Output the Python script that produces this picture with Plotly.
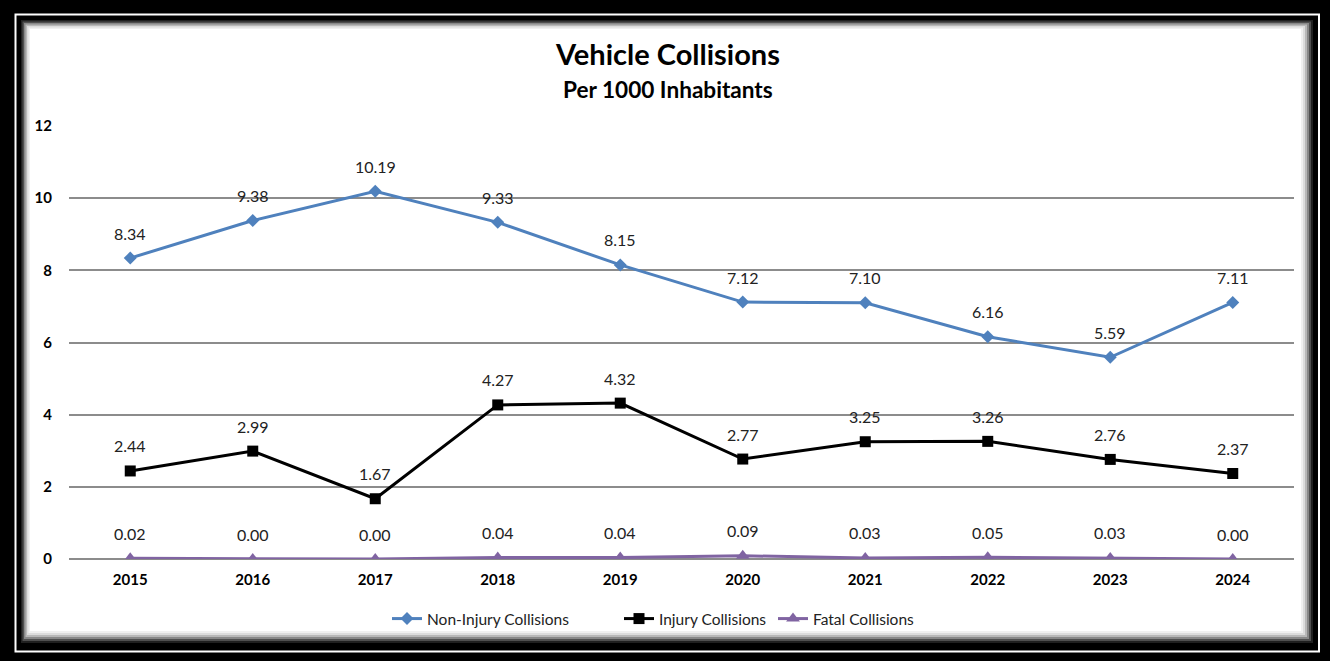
import plotly.graph_objects as go

years = ["2015", "2016", "2017", "2018", "2019", "2020", "2021", "2022", "2023", "2024"]
non_injury = [8.34, 9.38, 10.19, 9.33, 8.15, 7.12, 7.10, 6.16, 5.59, 7.11]
injury = [2.44, 2.99, 1.67, 4.27, 4.32, 2.77, 3.25, 3.26, 2.76, 2.37]
fatal = [0.02, 0.00, 0.00, 0.04, 0.04, 0.09, 0.03, 0.05, 0.03, 0.00]
y_ticks = [0, 2, 4, 6, 8, 10, 12]

W, H = 1330, 661
L, R, T, B = 69, 36, 126, 102
PW, PH = W - L - R, H - T - B
FONT = "Lato, 'Open Sans', sans-serif"


def px_x(p):
    return (p - L) / PW


def px_y(p):
    return (H - B - p) / PH


fig = go.Figure()

series = [
    ("Non-Injury Collisions", non_injury, "#4F81BD", "diamond", 10, "legend", 392),
    ("Injury Collisions", injury, "#000000", "square", 11, "legend2", 624),
    ("Fatal Collisions", fatal, "#8064A2", "triangle-up", 12, "legend3", 778),
]
legends = {}
for name, vals, color, symbol, size, leg, leg_px in series:
    fig.add_trace(go.Scatter(
        x=years, y=vals, name=name, mode="lines+markers", legend=leg,
        line=dict(color=color, width=3),
        marker=dict(symbol=symbol, size=size, color=color),
        hovertemplate="%{x}<br>%{y:.2f}<extra></extra>",
    ))
    legends[leg] = dict(
        x=px_x(leg_px - 5), xanchor="left", y=px_y(619), yanchor="middle",
        font=dict(size=15.5, color="#222222", family=FONT), bgcolor="rgba(0,0,0,0)",
        itemwidth=30,
    )
    # data labels, placed by category index
    for i, v in enumerate(vals):
        fig.add_annotation(
            x=i, y=v, xref="x", yref="y", text=f"{v:.2f}", showarrow=False,
            yshift=25, font=dict(size=16, color="#222222", family=FONT),
        )

# frame: black border, thin white line, drop shadow toward lower right
shapes = [
    dict(type="rect", x0=px_x(15.5), x1=px_x(1319), y0=px_y(14.5), y1=px_y(651.5),
         line=dict(color="white", width=2), fillcolor="rgba(0,0,0,0)"),
]
shadow = ["#202020", "#505050", "#888888", "#b8b8b8", "#dcdcdc", "#f0f0f0", "white"]
for k, col in enumerate(shadow):
    shapes.append(dict(
        type="rect",
        x0=px_x(21 + 1.5 * k), x1=px_x(1313 - 2 * k),
        y0=px_y(20 + 1.5 * k), y1=px_y(643 - 2 * k),
        line=dict(width=0), fillcolor=col,
    ))
for s in shapes:
    s.update(xref="paper", yref="paper", layer="below")
fig.update_layout(shapes=shapes)

fig.add_annotation(
    x=px_x(667), y=px_y(54), xref="paper", yref="paper", xanchor="center", yanchor="middle",
    text="Vehicle Collisions", showarrow=False,
    font=dict(size=29, color="black", family=FONT, weight="bold"),
)
fig.add_annotation(
    x=px_x(668), y=px_y(89), xref="paper", yref="paper", xanchor="center", yanchor="middle",
    text="Per 1000 Inhabitants", showarrow=False,
    font=dict(size=22.6, color="black", family=FONT, weight="bold"),
)

fig.update_layout(
    width=W, height=H,
    margin=dict(l=L, r=R, t=T, b=B),
    paper_bgcolor="black",
    plot_bgcolor="rgba(0,0,0,0)",
    font=dict(family=FONT, color="black"),
    showlegend=True,
    legend=legends["legend"],
    legend2=legends["legend2"],
    legend3=legends["legend3"],
    xaxis=dict(
        type="category", range=[-0.5, 9.5], showgrid=False, zeroline=False,
        showline=False, ticks="", ticklabelstandoff=10,
        tickfont=dict(size=15, color="black", family=FONT, weight="bold"),
    ),
    yaxis=dict(
        range=[0, 12], tickvals=y_ticks, showgrid=True, gridcolor="#8c8c8c", gridwidth=1.5,
        zeroline=True, zerolinecolor="#8c8c8c", zerolinewidth=1.5,
        showline=False, ticks="", ticklabelstandoff=16,
        tickfont=dict(size=15, color="black", family=FONT, weight="bold"),
    ),
)

fig.write_html(
    "out.html",
    config={"displayModeBar": False},
    post_script="document.body.style.margin='0';",
)
